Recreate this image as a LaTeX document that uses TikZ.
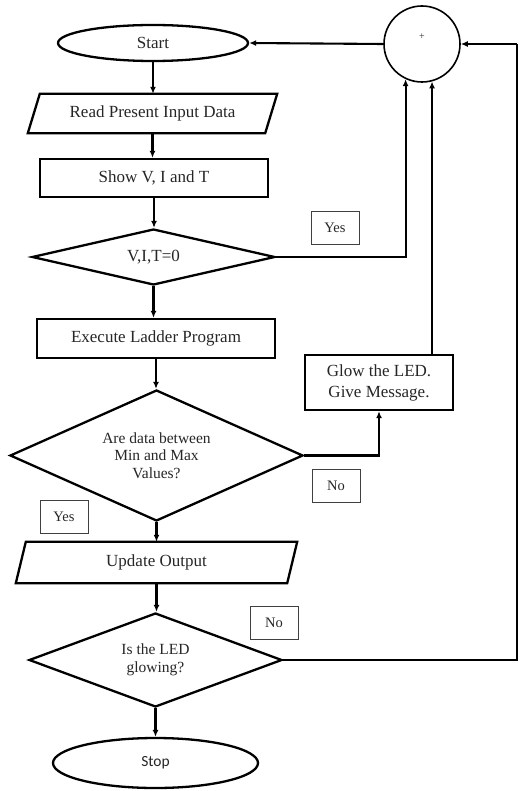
\documentclass[tikz,border=0pt]{standalone}
\usepackage{fontspec}
\setmainfont{Liberation Serif}
\newfontfamily\stopfont{Carlito}
\usetikzlibrary{shapes.geometric,arrows.meta}
\begin{document}
\begin{tikzpicture}[x=1pt,y=-1pt,
  shp/.style={draw=black,line width=2.3pt},
  big/.style={font=\fontsize{17}{21}\selectfont,text=black!85,align=center},
  small/.style={font=\fontsize{15.5}{17.5}\selectfont,text=black!85,align=center},
  rectbox/.style={shp,rectangle,inner sep=0pt,big},
  txtbox/.style={rectangle,inner sep=0pt,big},
  diam/.style={shp,diamond,inner sep=0pt},
  oval/.style={shp,ellipse,inner sep=0pt},
  lab/.style={draw=black!75,line width=0.8pt,rectangle,inner sep=0pt,
    minimum width=48pt,minimum height=33pt,font=\fontsize{14.5}{16}\selectfont,text=black!85},
  arr/.style={line width=2.1pt,-{Latex[length=7pt,width=6pt]}},
  ln/.style={line width=2.1pt}
]
\useasboundingbox (0,0) rectangle (520,791);

% nodes
\node[oval,big,minimum width=190pt,minimum height=36pt] (start) at (153,43) {Start};
\node[shp,circle,minimum size=76pt,inner sep=0pt,line width=1.6pt] (circ) at (422,44) {};
\node[font=\fontsize{10}{10}\selectfont,text=black!85] (plus) at (422,37) {+};

\node[txtbox,minimum width=237pt,minimum height=39pt] (read) at (152.5,113.5) {Read Present Input Data};
\draw[shp] ([xshift=6pt]read.north west) -- ([xshift=6pt]read.north east)
  -- ([xshift=-6pt]read.south east) -- ([xshift=-6pt]read.south west) -- cycle;

\node[rectbox,minimum width=228pt,minimum height=38pt] (show) at (154,178) {Show V, I and T};

\node[diam,big,minimum width=243pt,minimum height=56pt,shape aspect=4] (vit) at (153.5,257) {V,I,T=0};

\node[rectbox,minimum width=238pt,minimum height=39pt] (exec) at (156,338.5) {Execute Ladder Program};

\node[rectbox,minimum width=148pt,minimum height=55pt] (glow) at (379,382.5) {Glow the LED.\\Give Message.};

\node[diam,small,minimum width=293pt,minimum height=131pt,shape aspect=2.2] (are) at (156.5,455.5) {Are data between\\Min and Max\\Values?};

\node[txtbox,minimum width=271pt,minimum height=41pt] (upd) at (156.5,562.5) {Update Output};
\draw[shp] ([xshift=5pt]upd.north west) -- ([xshift=5pt]upd.north east)
  -- ([xshift=-5pt]upd.south east) -- ([xshift=-5pt]upd.south west) -- cycle;

\node[diam,small,minimum width=253pt,minimum height=94pt,shape aspect=2.6] (led) at (155.5,660) {Is the LED\\glowing?};

\node[oval,minimum width=205pt,minimum height=50pt,font=\stopfont\fontsize{15.5}{17}\selectfont,text=black!85] (stop) at (155.5,763) {Stop};

% labels
\node[lab] (yes1) at (335,227.5) {Yes};
\node[lab] (no1) at (336,485.5) {No};
\node[lab] (yes2) at (64,516.5) {Yes};
\node[lab] (no2) at (274,623) {No};

\coordinate (rc) at (517,44);

% connectors
\draw[arr] (start.south) -- (start.south |- read.north);
\draw[arr] (read.south) -- (read.south |- show.north);
\draw[arr] (show.south) -- (show.south |- vit.north);
\draw[arr] (vit.south) -- (vit.south |- exec.north);
\draw[arr] (exec.south) -- (exec.south |- are.north);
\draw[arr] (are.south) -- (are.south |- upd.north);
\draw[arr] (upd.south) -- (upd.south |- led.north);
\draw[arr] (led.south) -- (led.south |- stop.north);

\draw[arr] (circ.west) -- (start.east);
\draw[arr] (vit.east) -| (circ.-115);
\draw[arr] (glow.north -| circ.-75) -- (circ.-75);
\draw[arr] (are.east) -| (glow.south);
\draw[ln] (led.east) -| (rc);
\draw[arr] (rc) -- (circ.east);
\end{tikzpicture}
\end{document}
